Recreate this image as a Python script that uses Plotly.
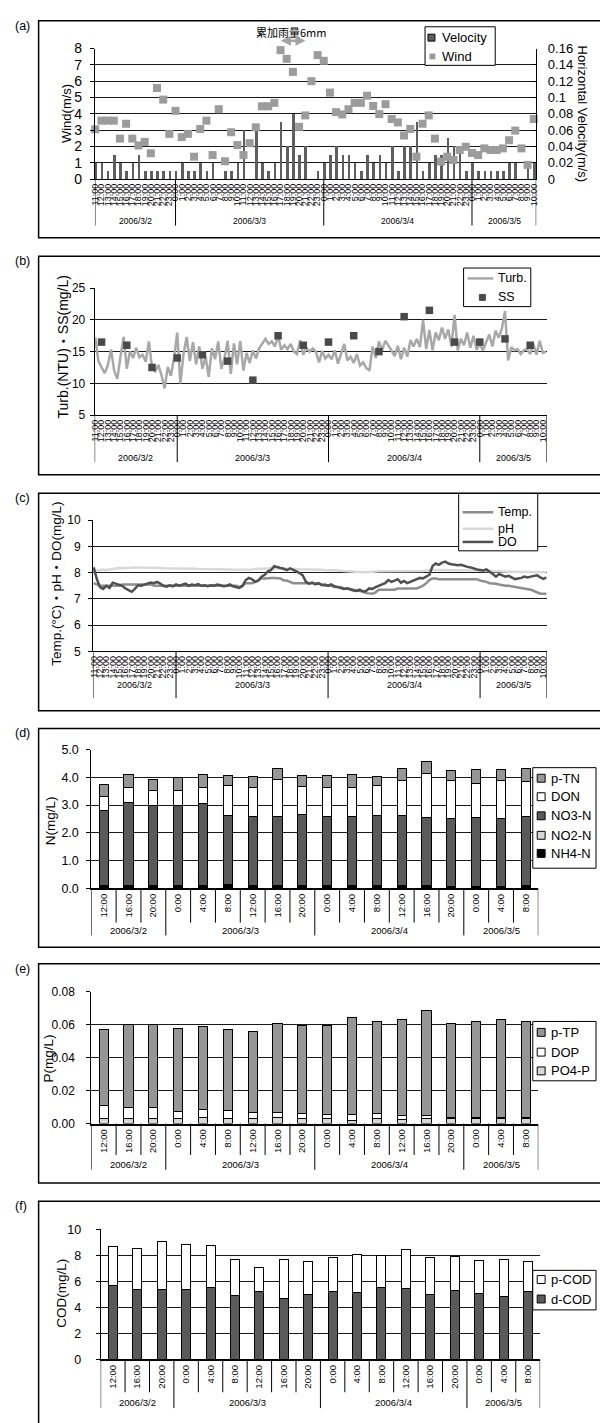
import numpy as np
import plotly.graph_objects as go

W, H = 600, 1423
LAT = "Liberation Sans, Noto Sans CJK JP, sans-serif"
CJK = "Noto Sans CJK JP, Liberation Sans, sans-serif"

# ---------------------------------------------------------------- data
# hourly axis: 2006/3/2 11:00 ... 2006/3/5 10:00
hour_of_day = list(range(11, 24)) + list(range(24)) + list(range(24)) + list(range(11))
hour_labels = [f"{h}:00" for h in hour_of_day]
hour_idx = list(range(len(hour_labels)))
day_names = ["2006/3/2", "2006/3/3", "2006/3/4", "2006/3/5"]

# (a) wind speed (m/s) and horizontal flow velocity (m/s)
wind = [3.05, 3.58, 3.58, 3.58, 2.48, 3.39, 2.48, 2.06, 2.28, 1.58,
        5.58, 4.87, 2.77, 4.18, 2.57, 2.77, 1.37, 3.07, 3.58, 1.47,
        4.28, 1.09, 2.87, 2.08, 1.47, 2.20, 3.17, 4.46, 4.46, 4.67,
        7.90, 7.37, 6.57, 3.20, 3.90, 6.00, 7.60, 7.25, 5.30, 4.10,
        3.96, 4.28, 4.67, 4.67, 5.11, 4.48, 3.98, 4.59, 3.68, 3.47,
        2.67, 3.07, 1.37, 3.39, 3.90, 2.48, 1.07, 1.37, 1.17, 1.78,
        1.98, 1.60, 1.47, 1.88, 1.78, 1.78, 1.88, 2.38, 2.97, 1.88,
        0.87, 3.68]
velocity = [0.02, 0.02, 0.01, 0.03, 0.02, 0.01, 0.02, 0.03, 0.01, 0.01,
            0.01, 0.01, 0.01, 0.01, 0.02, 0.01, 0.01, 0.02, 0.01, 0.02,
            0.00, 0.01, 0.01, 0.02, 0.06, 0.00, 0.06, 0.02, 0.01, 0.02,
            0.07, 0.04, 0.08, 0.03, 0.04, 0.00, 0.01, 0.02, 0.03, 0.04,
            0.03, 0.03, 0.02, 0.01, 0.03, 0.02, 0.03, 0.02, 0.04, 0.01,
            0.04, 0.04, 0.07, 0.01, 0.02, 0.03, 0.03, 0.05, 0.04, 0.04,
            0.01, 0.02, 0.01, 0.01, 0.01, 0.01, 0.01, 0.02, 0.02, 0.00,
            0.02, 0.02]

# (b)/(c) continuous records every 30 min on the same hourly axis
t_half = np.arange(144) * 0.5
turb = [17.2, 13.5, 12.5, 11.6, 12.9, 15.3, 12.0, 10.7, 14.2, 17.3, 12.3, 15.0,
        14.0, 15.6, 14.1, 14.5, 13.4, 16.6, 12.5, 11.8, 12.9, 11.3, 9.2, 12.6,
        11.2, 14.0, 18.0, 10.0, 14.6, 17.3, 13.5, 16.5, 13.0, 15.8, 12.3, 14.2,
        11.0, 15.5, 13.8, 16.6, 12.3, 14.0, 16.7, 11.5, 16.3, 13.0, 16.7, 12.0,
        14.8, 13.2, 15.2, 13.9, 15.5, 16.2, 17.0, 16.2, 16.6, 15.8, 17.5, 15.3,
        16.0, 15.4, 16.2, 15.0, 14.6, 16.8, 14.5, 15.6, 15.0, 15.5, 15.0, 13.3,
        15.1, 13.9, 14.5, 13.8, 15.2, 13.1, 14.6, 16.2, 13.6, 14.2, 13.2, 14.6,
        12.8, 13.3, 12.4, 12.0, 15.8, 14.0, 16.6, 15.2, 16.7, 16.0, 15.2, 14.3,
        15.9, 13.8, 15.6, 14.2, 16.8, 15.8, 17.0, 15.7, 20.0, 15.4, 18.4, 15.2,
        18.0, 16.8, 18.8, 17.0, 18.5, 15.8, 20.8, 15.2, 17.0, 16.0, 18.0, 15.6,
        17.5, 15.3, 16.2, 15.2, 16.5, 17.7, 15.8, 18.3, 17.2, 18.6, 21.4, 13.6,
        15.7, 15.2, 15.4, 14.6, 15.2, 15.4, 14.6, 16.2, 14.5, 16.7, 14.8, 15.0]

# 4-hourly water samples (3/2 12:00 ... 3/5 8:00)
sample_idx = [1, 5, 9, 13, 17, 21, 25, 29, 33, 37, 41, 45, 49, 53, 57, 61, 65, 69]
ss = [16.5, 16.0, 12.5, 14.0, 14.5, 13.5, 10.5, 17.5, 16.0,
      16.5, 17.5, 15.0, 20.5, 21.5, 16.5, 16.5, 17.0, 16.0]

temp = [7.60, 7.55, 7.50, 7.50, 7.50, 7.50, 7.50, 7.50, 7.50, 7.55, 7.55, 7.55,
        7.55, 7.55, 7.55, 7.55, 7.55, 7.55, 7.55, 7.50, 7.50, 7.50, 7.50, 7.50,
        7.50, 7.50, 7.50, 7.50, 7.50, 7.50, 7.50, 7.50, 7.50, 7.50, 7.50, 7.50,
        7.50, 7.50, 7.50, 7.50, 7.50, 7.50, 7.50, 7.50, 7.50, 7.50, 7.45, 7.50,
        7.60, 7.60, 7.60, 7.65, 7.70, 7.78, 7.78, 7.80, 7.80, 7.80, 7.80, 7.78,
        7.70, 7.70, 7.65, 7.60, 7.60, 7.60, 7.60, 7.60, 7.60, 7.60, 7.60, 7.60,
        7.55, 7.50, 7.50, 7.50, 7.45, 7.45, 7.45, 7.40, 7.40, 7.38, 7.35, 7.32,
        7.30, 7.28, 7.22, 7.20, 7.20, 7.25, 7.35, 7.35, 7.35, 7.35, 7.35, 7.35,
        7.40, 7.40, 7.40, 7.40, 7.40, 7.40, 7.40, 7.45, 7.50, 7.60, 7.72, 7.78,
        7.78, 7.75, 7.75, 7.75, 7.75, 7.75, 7.75, 7.75, 7.75, 7.75, 7.75, 7.75,
        7.75, 7.75, 7.70, 7.68, 7.65, 7.60, 7.60, 7.58, 7.55, 7.52, 7.50, 7.50,
        7.48, 7.45, 7.45, 7.42, 7.40, 7.38, 7.35, 7.30, 7.25, 7.20, 7.20, 7.20]
ph = [8.05, 8.08, 8.10, 8.12, 8.10, 8.12, 8.15, 8.17, 8.18, 8.17, 8.18, 8.20,
      8.20, 8.20, 8.20, 8.20, 8.19, 8.19, 8.18, 8.18, 8.18, 8.18, 8.17, 8.17,
      8.17, 8.17, 8.16, 8.16, 8.16, 8.15, 8.15, 8.15, 8.15, 8.14, 8.14, 8.14,
      8.14, 8.13, 8.13, 8.13, 8.12, 8.12, 8.12, 8.12, 8.11, 8.11, 8.11, 8.10,
      8.10, 8.10, 8.12, 8.14, 8.15, 8.16, 8.16, 8.16, 8.16, 8.16, 8.15, 8.15,
      8.15, 8.15, 8.14, 8.14, 8.14, 8.13, 8.13, 8.13, 8.12, 8.12, 8.12, 8.11,
      8.11, 8.10, 8.10, 8.10, 8.09, 8.08, 8.07, 8.06, 8.05, 8.04, 8.03, 8.03,
      8.02, 8.02, 8.02, 8.02, 8.03, 8.04, 8.05, 8.05, 8.05, 8.05, 8.04, 8.04,
      8.04, 8.04, 8.04, 8.04, 8.04, 8.04, 8.05, 8.05, 8.06, 8.08, 8.10, 8.10,
      8.10, 8.10, 8.10, 8.10, 8.10, 8.10, 8.10, 8.10, 8.09, 8.09, 8.08, 8.08,
      8.08, 8.08, 8.07, 8.07, 8.06, 8.06, 8.05, 8.05, 8.05, 8.04, 8.04, 8.04,
      8.04, 8.03, 8.03, 8.03, 8.03, 8.02, 8.02, 8.02, 8.02, 8.02, 8.02, 8.02]
do = [8.20, 7.75, 7.45, 7.38, 7.50, 7.42, 7.62, 7.58, 7.55, 7.50, 7.40, 7.32,
      7.27, 7.38, 7.52, 7.50, 7.55, 7.58, 7.62, 7.60, 7.65, 7.58, 7.50, 7.47,
      7.52, 7.48, 7.55, 7.50, 7.53, 7.58, 7.50, 7.55, 7.52, 7.56, 7.50, 7.52,
      7.48, 7.52, 7.50, 7.55, 7.52, 7.48, 7.50, 7.55, 7.48, 7.45, 7.42, 7.50,
      7.72, 7.80, 7.75, 7.65, 7.70, 7.85, 7.92, 8.05, 8.10, 8.25, 8.20, 8.18,
      8.15, 8.10, 8.16, 8.12, 8.05, 7.98, 7.90, 7.65, 7.58, 7.62, 7.55, 7.60,
      7.52, 7.55, 7.50, 7.55, 7.48, 7.45, 7.42, 7.38, 7.40, 7.35, 7.32, 7.30,
      7.35, 7.28, 7.30, 7.40, 7.38, 7.45, 7.50, 7.55, 7.60, 7.72, 7.65, 7.70,
      7.75, 7.62, 7.68, 7.60, 7.65, 7.70, 7.72, 7.80, 7.78, 7.85, 7.92, 8.25,
      8.35, 8.30, 8.38, 8.42, 8.35, 8.32, 8.30, 8.28, 8.30, 8.25, 8.22, 8.20,
      8.15, 8.12, 8.10, 8.08, 8.12, 8.05, 7.95, 7.85, 7.95, 7.90, 7.85, 7.88,
      7.80, 7.75, 7.78, 7.80, 7.85, 7.82, 7.85, 7.88, 7.90, 7.82, 7.76, 7.82]

# (d)-(f) 4-hourly samples
sample_labels = ["12:00", "16:00", "20:00", "0:00", "4:00", "8:00", "12:00", "16:00", "20:00",
                 "0:00", "4:00", "8:00", "12:00", "16:00", "20:00", "0:00", "4:00", "8:00"]
sample_pos = list(range(len(sample_labels)))

nh4_n = [0.08, 0.08, 0.07, 0.07, 0.08, 0.10, 0.08, 0.08, 0.08, 0.08, 0.08, 0.09, 0.08, 0.07, 0.06, 0.06, 0.06, 0.07]
no2_n = [0.02, 0.02, 0.02, 0.02, 0.02, 0.02, 0.02, 0.02, 0.02, 0.02, 0.02, 0.02, 0.02, 0.02, 0.02, 0.02, 0.02, 0.02]
no3_n = [2.70, 3.00, 2.89, 2.89, 2.94, 2.50, 2.47, 2.49, 2.55, 2.47, 2.49, 2.51, 2.52, 2.45, 2.45, 2.47, 2.44, 2.50]
don = [0.51, 0.53, 0.54, 0.54, 0.59, 1.07, 1.06, 1.34, 1.02, 1.05, 1.03, 1.09, 1.28, 1.59, 1.37, 1.23, 1.38, 1.25]
p_tn = [0.42, 0.48, 0.40, 0.47, 0.46, 0.36, 0.40, 0.40, 0.40, 0.43, 0.47, 0.32, 0.41, 0.43, 0.35, 0.51, 0.38, 0.49]

po4_p = [0.0030, 0.0030, 0.0034, 0.0030, 0.0036, 0.0034, 0.0034, 0.0038, 0.0030,
         0.0030, 0.0020, 0.0030, 0.0028, 0.0030, 0.0030, 0.0030, 0.0030, 0.0030]
dop = [0.0080, 0.0070, 0.0062, 0.0044, 0.0050, 0.0048, 0.0032, 0.0032, 0.0030,
       0.0024, 0.0034, 0.0030, 0.0022, 0.0020, 0.0008, 0.0008, 0.0006, 0.0008]
p_tp = [0.0460, 0.0500, 0.0504, 0.0502, 0.0502, 0.0492, 0.0492, 0.0536, 0.0536,
        0.0542, 0.0592, 0.0558, 0.0580, 0.0636, 0.0572, 0.0580, 0.0596, 0.0584]

d_cod = [5.70, 5.40, 5.40, 5.40, 5.55, 4.90, 5.20, 4.70, 5.00, 5.20, 5.15, 5.50, 5.45, 5.00, 5.30, 5.10, 4.85, 5.25]
p_cod = [3.02, 3.10, 3.65, 3.42, 3.20, 2.75, 1.85, 2.95, 2.55, 2.65, 2.95, 2.50, 3.00, 2.87, 2.65, 2.50, 2.80, 2.30]

# ---------------------------------------------------------------- helpers
shapes, annos = [], []


def px(x):
    return x / W


def py(y):
    return 1 - y / H


def seg(x0, y0, x1, y1, color="black", width=1):
    shapes.append(dict(type="line", xref="paper", yref="paper", x0=px(x0), x1=px(x1),
                       y0=py(y0), y1=py(y1), line=dict(color=color, width=width)))


def box(x0, y0, x1, y1, fill="rgba(0,0,0,0)", color="black", width=1):
    shapes.append(dict(type="rect", xref="paper", yref="paper", x0=px(x0), x1=px(x1),
                       y0=py(y1), y1=py(y0), fillcolor=fill, line=dict(color=color, width=width)))


def text(x, y, s, size, xanchor="center", angle=0, family=LAT):
    annos.append(dict(xref="paper", yref="paper", x=px(x), y=py(y), text=s, showarrow=False,
                      xanchor=xanchor, yanchor="middle", textangle=angle,
                      font=dict(size=size, family=family, color="black")))


def vline(xref, xv, y0, y1, width=1):
    shapes.append(dict(type="line", xref=xref, yref="paper", x0=xv, x1=xv, y0=py(y0), y1=py(y1),
                       line=dict(color="black", width=width)))


def dates(xref, centers, y, size):
    for c, name in zip(centers, day_names):
        annos.append(dict(xref=xref, yref="paper", x=c, y=py(y), text=name, showarrow=False,
                          xanchor="center", yanchor="middle",
                          font=dict(size=size, family=LAT, color="black")))


def yaxis(top, bottom, rng, dtick, size, standoff, fmt=None, **kw):
    d = dict(domain=[py(bottom), py(top)], range=rng, dtick=dtick, tick0=0,
             showgrid=True, gridcolor="#1a1a1a", gridwidth=1, zeroline=False,
             showline=True, linecolor="black", linewidth=1,
             ticks="outside", ticklen=4, tickcolor="black",
             ticklabelstandoff=standoff, tickfont=dict(size=size, family=LAT, color="black"),
             fixedrange=True)
    if fmt:
        d["tickformat"] = fmt
    d.update(kw)
    return d


def hour_xaxis(left, right, rng, anchor):
    return dict(domain=[px(left), px(right)], range=rng, anchor=anchor,
                tickmode="array", tickvals=hour_idx, ticktext=hour_labels, tickangle=-90,
                tickfont=dict(size=9, family=LAT, color="black"),
                showline=True, linecolor="black", linewidth=1, showgrid=False,
                zeroline=False, ticks="", fixedrange=True)


def sample_xaxis(left, right, anchor):
    return dict(domain=[px(left), px(right)], range=[-0.5, 17.5], anchor=anchor,
                tickmode="array", tickvals=sample_pos, ticktext=sample_labels, tickangle=-90,
                tickfont=dict(size=9.5, family=LAT, color="black"),
                showline=True, linecolor="black", linewidth=1.5, showgrid=False,
                zeroline=False, ticks="", fixedrange=True)


fig = go.Figure()

# ---------------------------------------------------------------- (a)
fig.add_trace(go.Bar(x=hour_idx, y=velocity, xaxis="x", yaxis="y", width=0.42, offset=-0.12,
                     marker=dict(color="#5e5e5e", line=dict(width=0)), name="Velocity"))
fig.add_trace(go.Scatter(x=hour_idx, y=wind, xaxis="x", yaxis="y2", mode="markers", cliponaxis=False,
                         marker=dict(symbol="square", size=8, color="#9c9c9c"), name="Wind"))

# ---------------------------------------------------------------- (b)
fig.add_trace(go.Scatter(x=t_half, y=turb, xaxis="x2", yaxis="y3", mode="lines",
                         line=dict(color="#a8a8a8", width=2.5), name="Turb."))
fig.add_trace(go.Scatter(x=sample_idx, y=ss, xaxis="x2", yaxis="y3", mode="markers", cliponaxis=False,
                         marker=dict(symbol="square", size=7.5, color="#4a4a4a"), name="SS"))

# ---------------------------------------------------------------- (c)
fig.add_trace(go.Scatter(x=t_half, y=temp, xaxis="x3", yaxis="y4", mode="lines",
                         line=dict(color="#8e8e8e", width=2.5), name="Temp."))
fig.add_trace(go.Scatter(x=t_half, y=ph, xaxis="x3", yaxis="y4", mode="lines",
                         line=dict(color="#d9d9d9", width=2.5), name="pH"))
fig.add_trace(go.Scatter(x=t_half, y=do, xaxis="x3", yaxis="y4", mode="lines",
                         line=dict(color="#505050", width=2.5), name="DO"))

# ---------------------------------------------------------------- (d)(e)(f)
BW = 0.37
OUT = dict(color="black", width=1)
for vals, col, nm in [(nh4_n, "#000000", "NH4-N"), (no2_n, "#d6d6d6", "NO2-N"),
                      (no3_n, "#5a5a5a", "NO3-N"), (don, "#ffffff", "DON"), (p_tn, "#969696", "p-TN")]:
    fig.add_trace(go.Bar(x=sample_pos, y=vals, xaxis="x4", yaxis="y5", width=BW, name=nm,
                         marker=dict(color=col, line=OUT)))
for vals, col, nm in [(po4_p, "#d6d6d6", "PO4-P"), (dop, "#ffffff", "DOP"), (p_tp, "#969696", "p-TP")]:
    fig.add_trace(go.Bar(x=sample_pos, y=vals, xaxis="x5", yaxis="y6", width=BW, name=nm,
                         marker=dict(color=col, line=OUT)))
for vals, col, nm in [(d_cod, "#5a5a5a", "d-COD"), (p_cod, "#ffffff", "p-COD")]:
    fig.add_trace(go.Bar(x=sample_pos, y=vals, xaxis="x6", yaxis="y7", width=BW, name=nm,
                         marker=dict(color=col, line=OUT)))

# ---------------------------------------------------------------- axes
RA = [-0.05, 71.4]
RB = [-0.1, 71.6]
RC = [-0.1, 71.5]
layout_axes = dict(
    xaxis=hour_xaxis(91, 537.5, RA, "y"),
    yaxis=dict(domain=[py(173), py(41)], range=[0, 0.16], dtick=0.02, tick0=0, side="right",
               anchor="x", showgrid=False, zeroline=False, showline=True, linecolor="black",
               ticks="inside", ticklen=4, tickcolor="black", ticklabelstandoff=8,
               tickfont=dict(size=13, family=LAT, color="black"), fixedrange=True),
    yaxis2=yaxis(41, 173, [0, 8], 1, 14, 5, overlaying="y", side="left", anchor="x"),
    xaxis2=hour_xaxis(90.7, 548, RB, "y3"),
    yaxis3=yaxis(283.3, 411.7, [5, 25], 5, 12, 2, anchor="x2"),
    xaxis3=hour_xaxis(89.1, 548, RC, "y4"),
    yaxis4=yaxis(518, 650.7, [5, 10], 1, 12, 5, anchor="x3"),
    xaxis4=sample_xaxis(87.3, 539.6, "y5"),
    yaxis5=yaxis(750, 890.3, [0, 5], 1, 12.5, 5, fmt=".1f", anchor="x4"),
    xaxis5=sample_xaxis(87.3, 539.6, "y6"),
    yaxis6=yaxis(995, 1128.3, [0, 0.08], 0.02, 12, 9, fmt=".2f", anchor="x5"),
    xaxis6=sample_xaxis(96.8, 541.5, "y7"),
    yaxis7=yaxis(1235.3, 1366.7, [0, 10], 2, 12.5, 12, anchor="x6"),
)

# ---------------------------------------------------------------- outer frames and panel tags
for tag, top, bot in [("(a)", 13, 232.3), ("(b)", 251, 472), ("(c)", 490.7, 710.7),
                      ("(d)", 728.7, 950), ("(e)", 966.7, 1188.3), ("(f)", 1206.7, 1432)]:
    box(34, top, 610, bot, width=1.5)
    text(8, top + 5, tag, 12.5, xanchor="left")

# ---------------------------------------------------------------- hourly category strips
for xref, rng, bottom, date_y, sep_end, dsize in [("x", RA, 173, 215, 220, 8.5),
                                                  ("x2", RB, 411.7, 454.7, 459.3, 9),
                                                  ("x3", RC, 650.7, 684.7, 698, 9)]:
    for xv in [rng[0], 13, 37, 61, rng[1]]:
        vline(xref, xv, bottom, sep_end)
    dates(xref, [(rng[0] + 13) / 2, 25, 49, (61 + rng[1]) / 2], date_y, dsize)

# ---------------------------------------------------------------- 4-hourly category strips
for xref, bottom, hour_end, date_y, sep_end in [("x4", 890.3, 925, 933, 938),
                                                ("x5", 1128.3, 1160, 1170, 1175),
                                                ("x6", 1366.7, 1400, 1410, 1416)]:
    for k in range(17):
        xv = k + 0.5
        if xv in (2.5, 8.5, 14.5):
            continue
        vline(xref, xv, bottom, hour_end)
    for xv in [-0.5, 2.5, 8.5, 14.5, 17.5]:
        vline(xref, xv, bottom, sep_end)
    dates(xref, [1.0, 5.5, 11.5, 16.0], date_y, 9.5)

# ---------------------------------------------------------------- axis titles
text(63, 107, "Wind(m/s)", 13, angle=-90)
text(584, 107, "Horizontal Velocity(m/s)", 13, angle=90)
text(59, 343, "Turb.(NTU)・SS(mg/L)", 14, angle=-90, family=LAT)
text(52, 582, "Temp.(°C)・pH・DO(mg/L)", 13.5, angle=-90, family=LAT)
text(46, 822, "N(mg/L)", 13.5, angle=-90)
text(44, 1062, "P(mg/L)", 13.5, angle=-90)
text(57, 1300, "COD(mg/L)", 13.5, angle=-90)

# rainfall note with a double arrow
text(289, 24, "累加雨量6mm", 11, family=CJK)
annos.append(dict(xref="paper", yref="paper", x=px(304), y=py(33), ax=-26, ay=0, text="",
                  showarrow=True, arrowhead=2, arrowside="end+start", arrowsize=0.8,
                  arrowwidth=2.5, arrowcolor="#a3a3a3"))


# ---------------------------------------------------------------- legends
def swatch(cx, cy, s, fill, border=True):
    shapes.append(dict(type="rect", xref="paper", yref="paper",
                       x0=px(cx - s / 2), x1=px(cx + s / 2), y0=py(cy + s / 2), y1=py(cy - s / 2),
                       fillcolor=fill, line=dict(color="black" if border else fill, width=1)))


# (a)
box(425, 19, 496, 58, fill="white")
swatch(431.5, 30, 7, "#5e5e5e")
text(440, 30, "Velocity", 13, xanchor="left")
swatch(432.5, 49, 5, "#9c9c9c", border=False)
text(440, 49, "Wind", 13, xanchor="left")

# (b)
box(464, 263, 532, 302, fill="white")
seg(468, 273.5, 494, 273.5, color="#a8a8a8", width=2.5)
text(497, 273.5, "Turb.", 12.5, xanchor="left")
swatch(483, 292.7, 6, "#4a4a4a", border=False)
text(497, 292.7, "SS", 12.5, xanchor="left")

# (c)
box(459, 491, 539, 549, fill="white")
for yy, col, nm in [(510, "#8e8e8e", "Temp."), (526.7, "#d9d9d9", "pH"), (540, "#505050", "DO")]:
    seg(463, yy, 494, yy, color=col, width=2.5)
    text(497, yy, nm, 12.5, xanchor="left")

# (d)
box(534, 768.3, 598, 870, fill="white")
for yy, col, nm in [(779, "#969696", "p-TN"), (797.7, "#ffffff", "DON"), (817, "#5a5a5a", "NO3-N"),
                    (836.7, "#d6d6d6", "NO2-N"), (855, "#000000", "NH4-N")]:
    swatch(542.5, yy, 8, col)
    text(550, yy, nm, 13, xanchor="left")

# (e)
box(534, 1025, 598, 1085, fill="white")
for yy, col, nm in [(1036, "#969696", "p-TP"), (1056, "#ffffff", "DOP"), (1075, "#d6d6d6", "PO4-P")]:
    swatch(542.5, yy, 8, col)
    text(550, yy, nm, 13, xanchor="left")

# (f)
box(534, 1276.7, 598, 1316.7, fill="white")
for yy, col, nm in [(1286, "#ffffff", "p-COD"), (1305.7, "#5a5a5a", "d-COD")]:
    swatch(542.5, yy, 8, col)
    text(550, yy, nm, 13, xanchor="left")

fig.update_layout(
    width=W, height=H, margin=dict(l=0, r=0, t=0, b=0),
    paper_bgcolor="white", plot_bgcolor="white",
    barmode="stack", bargap=0.6, showlegend=False,
    font=dict(family=LAT, color="black"),
    shapes=shapes, annotations=annos,
    **layout_axes,
)

fig.write_html("out.html")
